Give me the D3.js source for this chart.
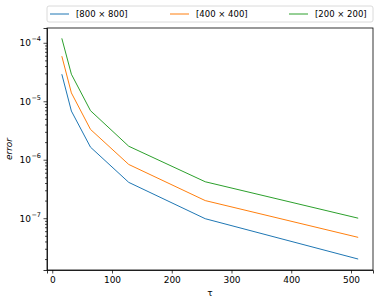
<!DOCTYPE html>
<html>
<head>
<meta charset="utf-8">
<script src="https://cdn.jsdelivr.net/npm/d3@7"></script>
<style>
  body { margin: 0; background: #fff; }
  svg { font-family: "DejaVu Sans", sans-serif; }
</style>
</head>
<body>
<div id="chart"></div>
<script>
const taus = [16, 32, 64, 128, 256, 512];
const seriesNames = ["[800 × 800]", "[400 × 400]", "[200 × 200]"];
const err800 = [2.9e-5, 6.8e-6, 1.64e-6, 4.1e-7, 9.8e-8, 2.0e-8];
const err400 = [5.9e-5, 1.39e-5, 3.3e-6, 8.3e-7, 2.0e-7, 4.7e-8];
const err200 = [1.19e-4, 2.9e-5, 6.9e-6, 1.7e-6, 4.2e-7, 1.0e-7];
const xTicks = [0, 100, 200, 300, 400, 500];
const yTicks = [-4, -5, -6, -7];
const colors = ["#1f77b4", "#ff7f0e", "#2ca02c"];

const width = 383, height = 305;
const margin = { top: 28, right: 10, bottom: 35, left: 47 };

const svg = d3.select('#chart')
    .append('svg')
    .attr('width', width)
    .attr('height', height);

const x = d3.scaleLinear()
    .domain([-8.8, 536.8])
    .range([margin.left, width - margin.right]);

const y = d3.scaleLog()
    .domain([1.3e-8, 1.79e-4])
    .range([height - margin.bottom, margin.top]);

// Axes
const xAxis = svg.append('g')
    .attr('transform', `translate(0,${height - margin.bottom})`)
    .call(d3.axisBottom(x).tickValues(xTicks).tickSize(3.5).tickPadding(3));

// minor log ticks
const minor = [];
for (let e = -8; e <= -4; e++) {
    for (let m = 2; m <= 9; m++) {
        const v = m * Math.pow(10, e);
        if (v >= y.domain()[0] && v <= y.domain()[1]) minor.push(v);
    }
}
svg.append('g')
    .attr('transform', `translate(${margin.left},0)`)
    .call(d3.axisLeft(y).tickValues(minor).tickSize(2).tickFormat(''))
    .call(g => g.select('.domain').remove());

const yAxis = svg.append('g')
    .attr('transform', `translate(${margin.left},0)`)
    .call(d3.axisLeft(y).tickValues(yTicks.map(e => Math.pow(10, e))).tickSize(3.5).tickPadding(3).tickFormat(''));

// 10^n labels, placed by measuring the pieces
yAxis.selectAll('.tick').each(function (d) {
    const tick = d3.select(this);
    const sup = tick.append('text')
        .attr('x', -6)
        .attr('y', -2)
        .attr('text-anchor', 'end')
        .attr('fill', '#000')
        .attr('font-size', 6.5)
        .attr('font-family', 'DejaVu Sans')
        .text('−' + Math.round(-Math.log10(d)));
    const w = sup.node().getComputedTextLength();
    tick.append('text')
        .attr('x', -6 - w - 0.5)
        .attr('dy', '0.32em')
        .attr('text-anchor', 'end')
        .attr('fill', '#000')
        .attr('font-size', 9)
        .attr('font-family', 'DejaVu Sans')
        .text('10');
});

svg.selectAll('.domain').attr('stroke', '#000').attr('stroke-width', 0.8);
svg.selectAll('.tick line').attr('stroke', '#000').attr('stroke-width', 0.7);
xAxis.selectAll('text').attr('font-size', 9).attr('fill', '#000').attr('font-family', 'DejaVu Sans');

// plot frame
svg.append('rect')
    .attr('x', margin.left)
    .attr('y', margin.top)
    .attr('width', width - margin.left - margin.right)
    .attr('height', height - margin.top - margin.bottom)
    .attr('fill', 'none')
    .attr('stroke', '#000')
    .attr('stroke-width', 0.8);

// Lines
const line = d3.line()
    .x((d, i) => x(taus[i]))
    .y(d => y(d));

[err800, err400, err200].forEach((s, i) => {
    svg.append('path')
        .datum(s)
        .attr('fill', 'none')
        .attr('stroke', colors[i])
        .attr('stroke-width', 1)
        .attr('d', line);
});

// Axis labels
svg.append('text')
    .attr('x', (margin.left + width - margin.right) / 2)
    .attr('y', 296)
    .attr('text-anchor', 'middle')
    .attr('font-size', 9)
    .text('τ');

svg.append('text')
    .attr('transform', `translate(12,${(margin.top + height - margin.bottom) / 2}) rotate(-90)`)
    .attr('text-anchor', 'middle')
    .attr('font-size', 9)
    .attr('font-style', 'italic')
    .text('error');

// Legend
const legend = svg.append('g');
legend.append('rect')
    .attr('x', margin.left)
    .attr('y', 6)
    .attr('width', width - margin.left - margin.right)
    .attr('height', 16)
    .attr('rx', 2)
    .attr('fill', '#fff')
    .attr('stroke', '#d0d0d0')
    .attr('stroke-width', 0.8);

const legendX = [50, 170, 289];
seriesNames.forEach((name, i) => {
    legend.append('line')
        .attr('x1', legendX[i]).attr('x2', legendX[i] + 19)
        .attr('y1', 14).attr('y2', 14)
        .attr('stroke', colors[i])
        .attr('stroke-width', 1);
    legend.append('text')
        .attr('x', legendX[i] + 26)
        .attr('y', 14)
        .attr('dy', '0.35em')
        .attr('font-size', 8.5)
        .text(name);
});
</script>
</body>
</html>
